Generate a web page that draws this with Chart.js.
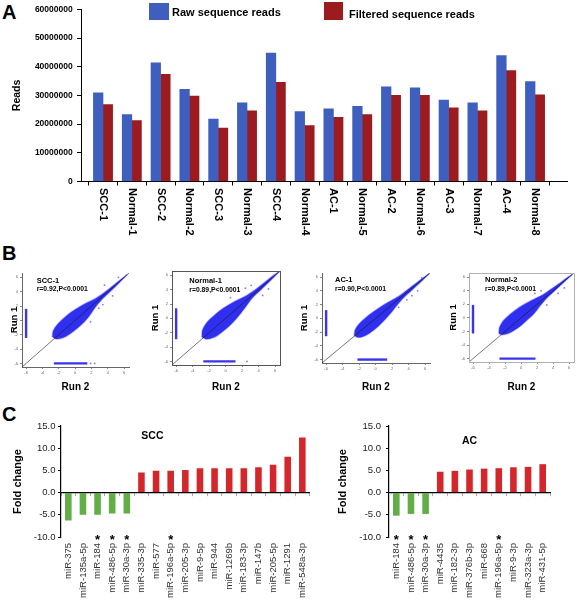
<!DOCTYPE html>
<html>
<head>
<meta charset="utf-8">
<script src="https://cdn.jsdelivr.net/npm/chart.js"></script>
<style>
html,body{margin:0;padding:0;background:#fff;}
body{width:577px;height:603px;position:relative;overflow:hidden;font-family:"Liberation Sans",Arial,Helvetica,sans-serif;}
canvas.cv{position:absolute;}
.letter{position:absolute;font-weight:bold;font-size:20px;line-height:20px;color:#000;}
</style>
</head>
<body>
<div class="letter" style="left:2px;top:2px">A</div>
<div class="letter" style="left:2px;top:243px">B</div>
<div class="letter" style="left:2px;top:404px">C</div>
<script>
// ---------------- DATA ----------------
// Panel A
const sampleNames = ['SCC-1','Normal-1','SCC-2','Normal-2','SCC-3','Normal-3','SCC-4','Normal-4','AC-1','Normal-5','AC-2','Normal-6','AC-3','Normal-7','AC-4','Normal-8'];
const rawReads = [30900000,23300000,41400000,32100000,21800000,27400000,44800000,24400000,25300000,26200000,33000000,32700000,28400000,27400000,43900000,34800000];
const filteredReads = [26800000,21200000,37400000,29800000,18600000,24600000,34600000,19500000,22400000,23300000,30000000,30000000,25700000,24600000,38700000,30200000];
const readsTicks = [0,10000000,20000000,30000000,40000000,50000000,60000000];

// Panel B (Run 2 = x, Run 1 = y)
const scatterNames = ['SCC-1','Normal-1','AC-1','Normal-2'];
const scatterStats = ['r=0.92,P<0.0001','r=0.89,P<0.0001','r=0.90,P<0.0001','r=0.89,P<0.0001'];
const scatterTicks = [-6,-4,-2,0,2,4,6];
const identityLine = [[-6.5,-6.5],[6.6,6.6]];
const cloudUpperSCC1 = [[-2.8,-2.3],[-2.7,-1.5],[-2.2,-0.6],[-1.3,0.4],[-0.3,1.3],[0.7,2.0],[1.7,2.6],[2.7,3.2],[3.7,4.0],[4.7,4.9],[5.7,5.8],[6.4,6.4]];
const cloudLowerSCC1 = [[-2.8,-2.3],[-2.3,-2.6],[-1.4,-2.4],[-0.4,-1.7],[0.6,-0.8],[1.6,0.4],[2.4,1.7],[3.2,2.8],[4.2,3.9],[5.2,5.0],[6.4,6.4]];
const zeroRun2SCC1 = [[-6,-2.45],[-6,1.6]];
const zeroRun1SCC1 = [[-2.6,-6],[1.5,-6]];
const outliersSCC1 = [[2.9,1.7],[3.4,2.2],[4.6,3.4],[5.3,6.0],[3.6,4.9],[1.9,-0.2],[1.9,-6],[2.4,-6]];
const cloudUpperN1 = [[-2.9,-2.6],[-2.8,-1.6],[-2.3,-0.6],[-1.3,0.5],[-0.3,1.4],[0.7,2.1],[1.7,2.7],[2.7,3.3],[3.7,4.1],[4.7,5.0],[5.7,5.9],[6.5,6.5]];
const cloudLowerN1 = [[-2.9,-2.6],[-2.3,-2.9],[-1.3,-2.6],[-0.3,-1.8],[0.7,-0.8],[1.7,0.5],[2.5,1.7],[3.3,2.9],[4.3,4.0],[5.3,5.1],[6.5,6.5]];
const zeroRun2N1 = [[-6,-2.9],[-6,1.4]];
const zeroRun1N1 = [[-2.7,-6],[1.2,-6]];
const outliersN1 = [[1.6,3.8],[2.4,4.2],[3.1,4.6],[4.5,3.2],[5.2,4.1],[0.6,2.9],[2.6,-6]];
const cloudUpperAC1 = [[-2.6,-2.5],[-2.5,-1.7],[-2.0,-0.8],[-1.1,0.2],[-0.1,1.1],[0.9,1.9],[1.9,2.6],[2.9,3.3],[3.9,4.2],[4.9,5.1],[5.9,6.0],[6.5,6.5]];
const cloudLowerAC1 = [[-2.6,-2.5],[-2.1,-2.8],[-1.2,-2.5],[-0.2,-1.7],[0.8,-0.6],[1.8,0.7],[2.6,1.9],[3.4,3.0],[4.4,4.1],[5.4,5.2],[6.5,6.5]];
const zeroRun2AC1 = [[-6,-2.6],[-6,1.2]];
const zeroRun1AC1 = [[-2.2,-6],[1.4,-6]];
const outliersAC1 = [[4.4,3.3],[5.1,4.0],[5.6,5.9],[2.8,1.6],[3.8,2.7]];
const cloudUpperN2 = [[-2.8,-2.3],[-2.7,-1.4],[-2.2,-0.4],[-1.3,0.6],[-0.3,1.5],[0.7,2.2],[1.7,2.8],[2.7,3.4],[3.7,4.2],[4.7,5.0],[5.7,5.9],[6.4,6.4]];
const cloudLowerN2 = [[-2.8,-2.3],[-2.3,-2.5],[-1.4,-2.2],[-0.4,-1.5],[0.6,-0.5],[1.6,0.6],[2.4,1.8],[3.2,2.9],[4.2,4.0],[5.2,5.1],[6.4,6.4]];
const zeroRun2N2 = [[-6,-2.3],[-6,1.9]];
const zeroRun1N2 = [[-2.7,-6],[1.8,-6]];
const outliersN2 = [[4.6,3.6],[5.4,4.4],[3.2,1.9],[2.5,4.0],[1.7,3.6]];

// Panel C
const sccMirnas = ['miR-375','miR-135a-5p','miR-184','miR-486-5p','miR-30a-3p','miR-335-3p','miR-577','miR-196a-5p','miR-205-3p','miR-9-5p','miR-944','miR-1269b','miR-183-3p','miR-147b','miR-205-5p','miR-1291','miR-548a-3p'];
const sccFoldChange = [-6.3,-5.0,-5.0,-4.7,-4.7,4.5,4.9,4.9,5.1,5.5,5.5,5.5,5.5,5.7,6.3,8.1,12.4];
const sccStarred = ['miR-184','miR-486-5p','miR-30a-3p','miR-196a-5p'];
const acMirnas = ['miR-184','miR-486-5p','miR-30a-3p','miR-4435','miR-182-3p','miR-376b-3p','miR-668','miR-196a-5p','miR-9-3p','miR-323a-3p','miR-431-5p'];
const acFoldChange = [-5.2,-4.8,-4.8,4.7,4.9,5.2,5.4,5.5,5.7,5.8,6.4];
const acStarred = ['miR-184','miR-486-5p','miR-30a-3p','miR-196a-5p'];
const foldTicks = [-10,-5,0,5,10,15];

// ---------------- SETUP ----------------
const FAMILY = '"Liberation Sans", Arial, Helvetica, sans-serif';
Chart.defaults.font.family = FAMILY;
Chart.defaults.color = '#000';
Chart.defaults.animation = false;
Chart.defaults.responsive = false;
Chart.defaults.devicePixelRatio = 1;
Chart.defaults.plugins.legend.display = false;
Chart.defaults.plugins.tooltip.enabled = false;

function makeCanvas(r) {
  const c = document.createElement('canvas');
  c.className = 'cv';
  c.width = r.width; c.height = r.height;
  c.style.left = r.left + 'px'; c.style.top = r.top + 'px';
  document.body.appendChild(c);
  return c;
}
function fixedLayout(cr, area) {
  return {
    padding: {top: area.top - cr.top, right: cr.left + cr.width - area.right, bottom: 0, left: 0},
    yWidth: area.left - cr.left,
    xHeight: cr.top + cr.height - area.bottom
  };
}
const toXY = arr => arr.map(p => ({x: p[0], y: p[1]}));

// ---------------- PANEL A ----------------
const boxLegend = {
  id: 'boxLegend',
  afterDraw(chart, args, opts) {
    const ctx = chart.ctx;
    ctx.save();
    ctx.font = 'bold 11px ' + FAMILY;
    ctx.textBaseline = 'middle';
    ctx.textAlign = 'left';
    opts.items.forEach((it, i) => {
      const ds = chart.data.datasets[i];
      ctx.fillStyle = ds.backgroundColor;
      ctx.fillRect(it.box[0], it.box[1], it.box[2], it.box[3]);
      ctx.fillStyle = '#000';
      ctx.fillText(ds.label, it.tx, it.ty);
    });
    ctx.restore();
  }
};
const clockwiseLabels = {
  id: 'clockwiseLabels',
  afterDraw(chart, args, opts) {
    const ctx = chart.ctx, xs = chart.scales.x;
    ctx.save();
    ctx.font = 'bold 11px ' + FAMILY;
    ctx.fillStyle = '#000';
    ctx.textAlign = 'left';
    ctx.textBaseline = 'middle';
    opts.labels.forEach((t, i) => {
      const x = xs.getPixelForValue(i + 0.5);
      ctx.save();
      ctx.translate(x, chart.chartArea.bottom + opts.gap);
      ctx.rotate(Math.PI / 2);
      ctx.fillText(t, 0, 0);
      ctx.restore();
    });
    ctx.restore();
  }
};
(function () {
  const cr = {left: 0, top: 0, width: 577, height: 245};
  const area = {left: 81, right: 567, top: 5.7, bottom: 181.5};
  const L = fixedLayout(cr, area);
  new Chart(makeCanvas(cr), {
    type: 'bar',
    data: {
      datasets: [
        {label: 'Raw sequence reads', data: rawReads.map((v, i) => ({x: i + 0.5, y: v})), backgroundColor: '#3f5fbf', barThickness: 9.6},
        {label: 'Filtered sequence reads', data: filteredReads.map((v, i) => ({x: i + 0.5, y: v})), backgroundColor: '#9b1b1f', barThickness: 9.6}
      ]
    },
    options: {
      layout: {padding: L.padding},
      scales: {
        x: {
          type: 'linear', min: -0.264, max: 16.61, offset: false,
          ticks: {display: false, stepSize: 1, includeBounds: false},
          grid: {offset: false, drawOnChartArea: false, tickLength: 4, color: '#000'},
          border: {color: '#000', width: 1},
          afterFit: s => { s.height = L.xHeight; }
        },
        y: {
          min: readsTicks[0], max: readsTicks[readsTicks.length - 1],
          afterBuildTicks: s => { s.ticks = readsTicks.map(v => ({value: v})); },
          ticks: {callback: v => String(v), font: {size: 8.5, weight: 'bold'}, padding: 4.3, color: '#000'},
          grid: {drawOnChartArea: false, tickLength: 4, color: '#000'},
          border: {color: '#000', width: 1},
          title: {display: true, text: 'Reads', font: {size: 10.5, weight: 'bold'}, color: '#000', padding: {top: 10.7, bottom: 0}},
          afterFit: s => { s.width = L.yWidth; }
        }
      },
      plugins: {
        boxLegend: {items: [
          {box: [149, 3, 20, 17], tx: 172, ty: 13},
          {box: [324, 2, 19, 18], tx: 349, ty: 15}
        ]},
        clockwiseLabels: {labels: sampleNames, gap: 6.5}
      }
    },
    plugins: [boxLegend, clockwiseLabels]
  });
})();

// ---------------- PANEL B ----------------
const scatterText = {
  id: 'scatterText',
  afterDraw(chart, args, opts) {
    const ctx = chart.ctx, a = chart.chartArea;
    ctx.save();
    if (opts.frame) {
      ctx.strokeStyle = opts.frame;
      ctx.lineWidth = 1;
      ctx.strokeRect(Math.round(a.left) + 0.5, Math.round(a.top) + 0.5, Math.round(a.right - a.left), Math.round(a.bottom - a.top));
    }
    ctx.fillStyle = '#000';
    ctx.textAlign = 'left';
    ctx.textBaseline = 'middle';
    ctx.font = 'bold 7.5px ' + FAMILY;
    ctx.fillText(opts.name, a.left + opts.dx, a.top + opts.nameDy);
    ctx.font = 'bold 6.8px ' + FAMILY;
    ctx.fillText(opts.stats, a.left + opts.dx, a.top + opts.statsDy);
    ctx.restore();
  }
};
const scatterPanels = [
  {upper: cloudUpperSCC1, lower: cloudLowerSCC1, zy: zeroRun2SCC1, zx: zeroRun1SCC1, extra: outliersSCC1,
   area: {left: 22, right: 130, top: 273, bottom: 367}, run1X: 14, frame: null, axis: '#666', dx: 14.7, nameDy: 7.7, statsDy: 15.7},
  {upper: cloudUpperN1, lower: cloudLowerN1, zy: zeroRun2N1, zx: zeroRun1N1, extra: outliersN1,
   area: {left: 172, right: 281, top: 271, bottom: 365}, run1X: 155, frame: '#555', axis: '#555', dx: 17.3, nameDy: 10, statsDy: 19},
  {upper: cloudUpperAC1, lower: cloudLowerAC1, zy: zeroRun2AC1, zx: zeroRun1AC1, extra: outliersAC1,
   area: {left: 322, right: 431, top: 273, bottom: 363}, run1X: 304, frame: null, axis: '#666', dx: 13, nameDy: 7, statsDy: 16.3},
  {upper: cloudUpperN2, lower: cloudLowerN2, zy: zeroRun2N2, zx: zeroRun1N2, extra: outliersN2,
   area: {left: 469, right: 575, top: 273, bottom: 362}, run1X: 453, frame: '#b0b0b0', axis: '#999', dx: 16, nameDy: 7, statsDy: 16}
];
scatterPanels.forEach((p, k) => {
  const cr = {left: p.area.left - 30, top: 262, width: p.area.right - p.area.left + 33, height: 133};
  const L = fixedLayout(cr, p.area);
  const run1Font = 9.5;
  const edge = 'rgba(70,70,245,0.4)';
  new Chart(makeCanvas(cr), {
    type: 'scatter',
    data: {
      datasets: [
        {data: toXY(identityLine), showLine: true, borderColor: 'rgba(25,25,25,0.85)', borderWidth: 0.7, pointRadius: 0},
        {data: toXY(p.upper), showLine: true, fill: '+1', backgroundColor: '#2f2ff0', borderColor: edge, borderWidth: 1.4, pointRadius: 0, tension: 0.35},
        {data: toXY(p.lower), showLine: true, fill: false, borderColor: edge, borderWidth: 1.4, pointRadius: 0, tension: 0.35},
        {data: toXY(p.zy), showLine: true, borderColor: '#3a34f0', borderWidth: 2.4, pointRadius: 0},
        {data: toXY(p.zx), showLine: true, borderColor: '#3a34f0', borderWidth: 2.4, pointRadius: 0},
        {data: toXY(p.extra), showLine: false, pointRadius: 0.9, backgroundColor: 'rgba(80,80,245,0.75)', borderWidth: 0}
      ]
    },
    options: {
      layout: {padding: L.padding},
      scales: {
        x: {
          type: 'linear', min: -6.5, max: 6.6,
          afterBuildTicks: s => { s.ticks = scatterTicks.map(v => ({value: v})); },
          ticks: {autoSkip: false, maxRotation: 0, font: {size: 4}, color: '#666', padding: 1.5},
          grid: {drawOnChartArea: false, tickLength: 2, color: '#888'},
          border: {color: p.axis, width: 1},
          title: {display: true, text: 'Run 2', font: {size: 10, weight: 'bold'}, color: '#000', padding: {top: 0, bottom: 2}},
          afterFit: s => { s.height = L.xHeight; }
        },
        y: {
          type: 'linear', min: -6.5, max: 6.6,
          afterBuildTicks: s => { s.ticks = scatterTicks.map(v => ({value: v})); },
          ticks: {autoSkip: false, font: {size: 4}, color: '#666', padding: 2},
          grid: {drawOnChartArea: false, tickLength: 2, color: '#888'},
          border: {color: p.axis, width: 1},
          title: {display: true, text: 'Run 1', font: {size: run1Font, weight: 'bold'}, color: '#000',
                  padding: {top: Math.max(0, p.run1X - cr.left - run1Font * 0.6), bottom: 0}},
          afterFit: s => { s.width = L.yWidth; }
        }
      },
      plugins: {
        scatterText: {name: scatterNames[k], stats: scatterStats[k], frame: p.frame, dx: p.dx, nameDy: p.nameDy, statsDy: p.statsDy}
      }
    },
    plugins: [scatterText]
  });
});

// ---------------- PANEL C ----------------
const foldExtras = {
  id: 'foldExtras',
  afterDatasetsDraw(chart, args, opts) {
    const ctx = chart.ctx, xs = chart.scales.x, ys = chart.scales.y;
    const labels = chart.data.labels;
    ctx.save();
    ctx.fillStyle = '#000';
    ctx.textAlign = 'center';
    ctx.textBaseline = 'alphabetic';
    ctx.font = 'bold 13px ' + FAMILY;
    opts.starred.forEach(name => {
      const i = labels.indexOf(name);
      if (i < 0) return;
      ctx.fillText('*', xs.getPixelForValue(i), chart.chartArea.bottom + 7.2);
    });
    ctx.font = 'bold 10.5px ' + FAMILY;
    ctx.textBaseline = 'middle';
    ctx.fillText(opts.title, xs.getPixelForValue(opts.titleAt[0]), ys.getPixelForValue(opts.titleAt[1]));
    ctx.restore();
  }
};
function foldChart(cr, area, labels, values, starred, title, titleAt, tickPad) {
  const L = fixedLayout(cr, area);
  new Chart(makeCanvas(cr), {
    type: 'bar',
    data: {
      labels: labels,
      datasets: [{
        data: values,
        backgroundColor: values.map(v => v < 0 ? '#62ad46' : '#d4272c'),
        categoryPercentage: 0.5, barPercentage: 0.9
      }]
    },
    options: {
      layout: {padding: L.padding},
      scales: {
        x: {
          ticks: {minRotation: 90, maxRotation: 90, autoSkip: false, font: {size: 9.5}, color: '#333', padding: 6},
          grid: {display: false, drawTicks: false},
          border: {display: false},
          afterFit: s => { s.height = L.xHeight; }
        },
        xz: {
          type: 'category', position: {y: 0}, offset: true,
          ticks: {display: false},
          grid: {offset: true, drawOnChartArea: false, tickLength: 3, color: '#aaa'},
          border: {display: true, color: '#000', width: 1.2}
        },
        y: {
          min: foldTicks[0], max: foldTicks[foldTicks.length - 1],
          afterBuildTicks: s => { s.ticks = foldTicks.map(v => ({value: v})); },
          ticks: {callback: v => Number(v).toFixed(1), font: {size: 9.5}, color: '#222', padding: tickPad},
          grid: {drawOnChartArea: false, tickLength: 3, color: '#000'},
          border: {color: '#000', width: 1.2},
          title: {display: true, text: 'Fold change', font: {size: 11, weight: 'bold'}, color: '#000', padding: {top: 11.4, bottom: 0}},
          afterFit: s => { s.width = L.yWidth; }
        }
      },
      plugins: {foldExtras: {starred: starred, title: title, titleAt: titleAt}}
    },
    plugins: [foldExtras]
  });
}
foldChart({left: 0, top: 400, width: 320, height: 203}, {left: 61, right: 310.5, top: 426, bottom: 537},
          sccMirnas, sccFoldChange, sccStarred, 'SCC', [5.75, 12.8], 2.5);
foldChart({left: 325, top: 400, width: 240, height: 203}, {left: 389, right: 550, top: 426, bottom: 537},
          acMirnas, acFoldChange, acStarred, 'AC', [5.0, 11.7], 5);
</script>
</body>
</html>
